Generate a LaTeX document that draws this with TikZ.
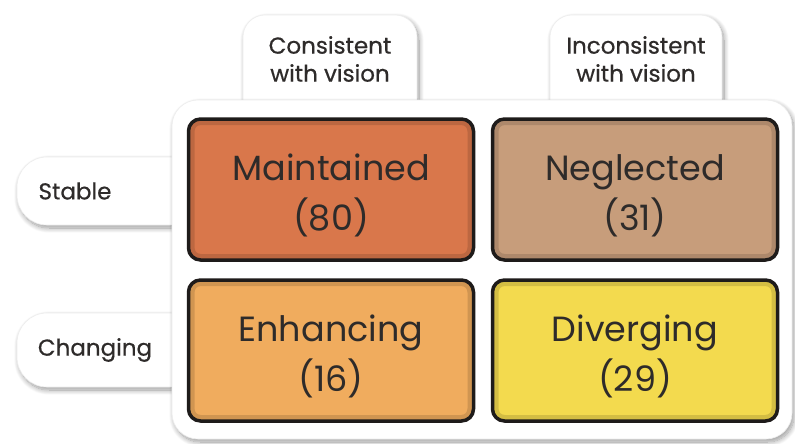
\documentclass[tikz,border=0pt]{standalone}
\usepackage{fontspec}
\setmainfont{Poppins}
\newfontfamily\headfont[FakeBold=0.6]{Poppins}
\usetikzlibrary{positioning, shadows.blur}

\definecolor{maintcol}{HTML}{D9774B}
\definecolor{neglcol}{HTML}{C79D7B}
\definecolor{enhcol}{HTML}{F0AC5E}
\definecolor{divcol}{HTML}{F3DA4E}
\definecolor{edgecol}{HTML}{1E1B1A}
\definecolor{txtcol}{HTML}{2E2B2A}

\tikzset{
  softshadow/.style={blur shadow={shadow xshift=2pt, shadow yshift=-3pt,
      shadow blur steps=12, shadow blur radius=5pt,
      shadow blur extra rounding=3pt, shadow opacity=40}},
  tab/.style={fill=white, draw=black!7, line width=0.6pt, softshadow},
  panel/.style={fill=white, draw=black!7, line width=0.6pt, rounded corners=26pt, softshadow},
  cell/.style={draw=edgecol, line width=3.5pt, rounded corners=12pt,
      minimum width=285pt, minimum height=141pt,
      path picture={\draw[black, opacity=.13, line width=12pt, rounded corners=12pt]
        (path picture bounding box.south west) rectangle (path picture bounding box.north east);}},
  celltext/.style={text=txtcol, align=center, font=\fontsize{35}{50}\selectfont},
  head/.style={text=txtcol, align=center, font=\headfont\fontsize{23}{28}\selectfont}
}

\begin{document}
\begin{tikzpicture}[x=1pt, y=-1pt]
    \useasboundingbox (0,0) rectangle (795,444);

    %Tabs
    \path[tab, rounded corners=22pt] (243,120) -- (243,15) -- (417,15) -- (417,120) -- cycle;
    \path[tab, rounded corners=22pt] (550,120) -- (550,15) -- (722,15) -- (722,120) -- cycle;
    \path[tab, rounded corners=30pt] (200,157) -- (17,157) -- (17,225) -- (200,225) -- cycle;
    \path[tab, rounded corners=30pt] (200,313) -- (17,313) -- (17,387) -- (200,387) -- cycle;

    %Panel
    \path[panel] (172,100) rectangle (792,439);

    %Headings
    \node[head] (cons) at (330,59) {Consistent\\with vision};
    \node[head] (incons) at (636,59) {Inconsistent\\with vision};
    \node[head] (stable) at (75,191) {Stable};
    \node[head] (changing) at (95,350) {Changing};

    %Cells
    \node[cell, fill=maintcol] (maint) at (331,189.5) {};
    \node[cell, fill=neglcol] (negl) at (635,189.5) {};
    \node[cell, fill=enhcol] (enh) at (331,350.5) {};
    \node[cell, fill=divcol] (div) at (635,350.5) {};

    %Cell texts
    \node[celltext] (maintlbl) at ([yshift=-6pt]maint.center) {Maintained\\(80)};
    \node[celltext] (negllbl) at ([yshift=-6pt]negl.center) {Neglected\\(31)};
    \node[celltext] (enhlbl) at ([yshift=-6pt]enh.center) {Enhancing\\(16)};
    \node[celltext] (divlbl) at ([yshift=-6pt]div.center) {Diverging\\(29)};
\end{tikzpicture}
\end{document}
